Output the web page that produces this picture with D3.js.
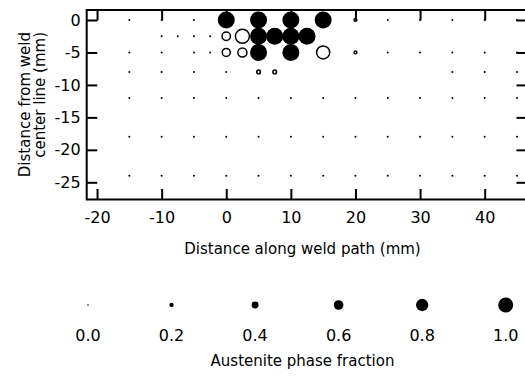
<!DOCTYPE html>
<html><head><meta charset="utf-8">
<script src="https://cdn.jsdelivr.net/npm/d3@7"></script>
<style>
html,body{margin:0;padding:0;background:#fff;}
svg{display:block;}
text{font-family:"DejaVu Sans",sans-serif;fill:#000;}
</style></head>
<body>
<svg id="chart" width="525" height="376"></svg>
<script>
// Measurement grid: x (along weld path, mm), y (from center line, mm), austenite fraction, filled marker?
const xs = [
  -15,-10,-5,0,5,10,15,20,25,30,35,40,45,
  -10,-7.5,-5,-2.5,0,2.5,5,7.5,10,12.5,
  -15,-10,-5,-2.5,0,2.5,5,10,15,20,25,30,35,40,45,
  -15,-10,-5,0,5,7.5,35,40,45,
  -15,-10,-5,0,5,10,15,20,25,30,35,40,45,
  -15,-10,-5,0,5,10,15,20,25,30,35,40,45,
  -15,-10,-5,0,5,10,15,20,25,30,35,40,45
];
const ys = [
  0,0,0,0,0,0,0,0,0,0,0,0,0,
  -2.5,-2.5,-2.5,-2.5,-2.5,-2.5,-2.5,-2.5,-2.5,-2.5,
  -5,-5,-5,-5,-5,-5,-5,-5,-5,-5,-5,-5,-5,-5,-5,
  -8,-8,-8,-8,-8,-8,-8,-8,-8,
  -12,-12,-12,-12,-12,-12,-12,-12,-12,-12,-12,-12,-12,
  -18,-18,-18,-18,-18,-18,-18,-18,-18,-18,-18,-18,-18,
  -24,-24,-24,-24,-24,-24,-24,-24,-24,-24,-24,-24,-24
];
const fractions = [
  0,0,0,1,1,1,1,0.05,0,0,0,0,0,
  0,0,0,0,0.43,0.8,1,1,1,1,
  0,0,0,0,0.4,0.47,1,1,0.74,0.05,0,0,0,0,0,
  0,0,0,0,0.11,0.11,0,0,0,
  0,0,0,0,0,0,0,0,0,0,0,0,0,
  0,0,0,0,0,0,0,0,0,0,0,0,0,
  0,0,0,0,0,0,0,0,0,0,0,0,0
];
const filled = [
  1,1,1,1,1,1,1,0,1,1,1,1,1,
  1,1,1,1,0,0,1,1,1,1,
  1,1,1,1,0,0,1,1,0,0,1,1,1,1,1,
  1,1,1,1,0,0,1,1,1,
  1,1,1,1,1,1,1,1,1,1,1,1,1,
  1,1,1,1,1,1,1,1,1,1,1,1,1,
  1,1,1,1,1,1,1,1,1,1,1,1,1
];
const xTicks = [-20,-10,0,10,20,30,40];
const yTicks = [0,-5,-10,-15,-20,-25];
const legendValues = [0.0,0.2,0.4,0.6,0.8,1.0];
const legendLabels = ["0.0","0.2","0.4","0.6","0.8","1.0"];

const svg = d3.select("#chart");
const L = 86.7, R = 527, T = 10, B = 199.5;
const x = d3.scaleLinear().domain([-21.6, 46.55]).range([L, R]);
const y = d3.scaleLinear().domain([-27.65, 1.54]).range([B, T]);
const r = d3.scaleLinear().domain([0,1]).range([1, 8.5]);
const rLeg = d3.scaleLinear().domain([0,1]).range([0.8, 7.5]);

const data = xs.map((d,i)=>({x:d, y:ys[i], v:fractions[i], f:filled[i]}));

// points
svg.append("g").selectAll("circle").data(data).enter().append("circle")
  .attr("cx", d=>x(d.x)).attr("cy", d=>y(d.y))
  .attr("r", d=>r(d.v))
  .attr("fill", d=> d.f ? "#000" : "#fff")
  .attr("stroke", d=> d.f ? "none" : "#000")
  .attr("stroke-width", 1.5);

// axes (ticks inward)
const tickLen = 10.5;
const fmt = d => String(d);
const axStyle = g => { g.select(".domain").remove(); g.selectAll(".tick line").attr("stroke","#000").attr("stroke-width",2); };
const lab = g => g.selectAll("text").attr("font-size","16px").attr("font-family","DejaVu Sans").attr("fill","#000");
svg.append("g").attr("transform",`translate(0,${B})`)
  .call(d3.axisBottom(x).tickValues(xTicks).tickSizeInner(-tickLen).tickSizeOuter(0).tickPadding(12).tickFormat(fmt))
  .call(axStyle).call(lab);
svg.append("g").attr("transform",`translate(0,${T})`)
  .call(d3.axisTop(x).tickValues(xTicks).tickSizeInner(-tickLen).tickSizeOuter(0).tickFormat(""))
  .call(axStyle);
svg.append("g").attr("transform",`translate(${L},0)`)
  .call(d3.axisLeft(y).tickValues(yTicks).tickSizeInner(-tickLen).tickSizeOuter(0).tickPadding(6).tickFormat(fmt))
  .call(axStyle).call(lab);
svg.append("g").attr("transform",`translate(${R},0)`)
  .call(d3.axisRight(y).tickValues(yTicks).tickSizeInner(-tickLen).tickSizeOuter(0).tickFormat(""))
  .call(axStyle);
svg.append("rect").attr("x",L).attr("y",T).attr("width",R-L).attr("height",B-T)
  .attr("fill","none").attr("stroke","#000").attr("stroke-width",2);

// axis titles
svg.append("text").attr("x",302.5).attr("y",254).attr("text-anchor","middle")
  .attr("font-size","15px").text("Distance along weld path (mm)");
const yt = svg.append("text").attr("transform","rotate(-90)")
  .attr("text-anchor","end").attr("font-size","15px");
yt.append("tspan").attr("x",-32).attr("y",29.5).text("Distance from weld");
yt.append("tspan").attr("x",-32).attr("y",45).text("center line (mm)");

// legend
const lx = d3.scalePoint().domain(legendLabels).range([88, 505.7]);
const lg = svg.append("g");
lg.selectAll("circle").data(legendValues).enter().append("circle")
  .attr("cx",(d,i)=>lx(legendLabels[i])).attr("cy",305).attr("r",d=>rLeg(d)).attr("fill","#000");
lg.selectAll("text").data(legendLabels).enter().append("text")
  .attr("x",d=>lx(d)).attr("y",340.5).attr("text-anchor","middle").attr("font-size","16px").text(d=>d);
svg.append("text").attr("x",302.5).attr("y",366).attr("text-anchor","middle")
  .attr("font-size","15px").text("Austenite phase fraction");
</script>
</body></html>
